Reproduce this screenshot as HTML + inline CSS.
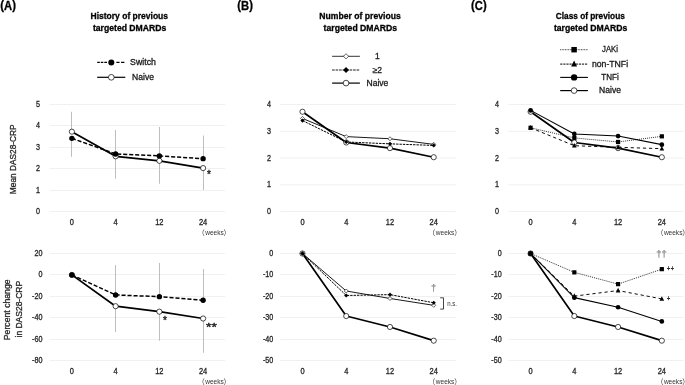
<!DOCTYPE html>
<html lang="en"><head><meta charset="utf-8"><title>Figure</title>
<style>html,body{margin:0;padding:0;background:#fff}svg{display:block}text{font-family:"Liberation Sans", sans-serif}.wk{font-family:"Liberation Sans","Noto Sans CJK JP",sans-serif}</style></head><body>
<svg width="685" height="385" viewBox="0 0 685 385">
<rect width="685" height="385" fill="#fff"/>
<g fill="#262626">
<text x="0.3" y="10.2" font-size="12.5" font-weight="bold" fill="#000" stroke="#000" stroke-width="0.3" textLength="15.6" lengthAdjust="spacingAndGlyphs"><tspan dy="-0.9">(</tspan><tspan dy="0.9">A</tspan><tspan dy="-0.9">)</tspan></text>
<text x="237.3" y="10.2" font-size="12.5" font-weight="bold" fill="#000" stroke="#000" stroke-width="0.3" textLength="15.6" lengthAdjust="spacingAndGlyphs"><tspan dy="-0.9">(</tspan><tspan dy="0.9">B</tspan><tspan dy="-0.9">)</tspan></text>
<text x="471.1" y="10.2" font-size="12.5" font-weight="bold" fill="#000" stroke="#000" stroke-width="0.3" textLength="15.6" lengthAdjust="spacingAndGlyphs"><tspan dy="-0.9">(</tspan><tspan dy="0.9">C</tspan><tspan dy="-0.9">)</tspan></text>
<text x="129.30" y="19.40" font-size="9.3" text-anchor="middle" font-weight="bold" fill="#000" stroke="#000" stroke-width="0.3" textLength="77.5" lengthAdjust="spacingAndGlyphs">History of previous</text>
<text x="129.60" y="30.80" font-size="9.3" text-anchor="middle" font-weight="bold" fill="#000" stroke="#000" stroke-width="0.3" textLength="73.4" lengthAdjust="spacingAndGlyphs">targeted DMARDs</text>
<text x="360.00" y="19.40" font-size="9.3" text-anchor="middle" font-weight="bold" fill="#000" stroke="#000" stroke-width="0.3" textLength="81.5" lengthAdjust="spacingAndGlyphs">Number of previous</text>
<text x="360.30" y="30.80" font-size="9.3" text-anchor="middle" font-weight="bold" fill="#000" stroke="#000" stroke-width="0.3" textLength="73.4" lengthAdjust="spacingAndGlyphs">targeted DMARDs</text>
<text x="590.30" y="19.40" font-size="9.3" text-anchor="middle" font-weight="bold" fill="#000" stroke="#000" stroke-width="0.3" textLength="69.0" lengthAdjust="spacingAndGlyphs">Class of previous</text>
<text x="590.60" y="30.80" font-size="9.3" text-anchor="middle" font-weight="bold" fill="#000" stroke="#000" stroke-width="0.3" textLength="73.4" lengthAdjust="spacingAndGlyphs">targeted DMARDs</text>
<path d="M97.2 62.4H99.8M100.8 62.4H103.3M104.3 62.4H107.0M116.4 62.4H119.5M121.1 62.4H124.4" stroke="#000" stroke-width="1.3"/>
<circle cx="111.30" cy="62.40" r="3.02" fill="#000"/>
<text x="143.00" y="65.10" font-size="8.5" text-anchor="middle" fill="#1a1a1a" stroke="#1a1a1a" stroke-width="0.3" textLength="25.8" lengthAdjust="spacingAndGlyphs">Switch</text>
<path d="M97.20 77.30H125.30" stroke="#000" stroke-width="1.2"/>
<circle cx="111.30" cy="77.30" r="2.86" fill="#fff" stroke="#000" stroke-width="0.7"/>
<text x="143.00" y="80.00" font-size="8.5" text-anchor="middle" fill="#1a1a1a" stroke="#1a1a1a" stroke-width="0.3" textLength="21.8" lengthAdjust="spacingAndGlyphs">Naive</text>
<path d="M332.10 56.30H359.90" stroke="#000" stroke-width="0.8"/>
<path d="M343.45 56.30L346.05 53.70L348.65 56.30L346.05 58.90Z" fill="#fff" stroke="#000" stroke-width="0.6"/>
<text x="377.40" y="59.00" font-size="8.5" text-anchor="middle" fill="#1a1a1a" stroke="#1a1a1a" stroke-width="0.3">1</text>
<path d="M332.10 70.00H359.90" stroke="#000" stroke-width="0.9" stroke-dasharray="2.6 0.9"/>
<path d="M343.11 70.00L346.05 67.06L348.99 70.00L346.05 72.94Z" fill="#000"/>
<text x="377.40" y="72.70" font-size="8.5" text-anchor="middle" fill="#1a1a1a" stroke="#1a1a1a" stroke-width="0.3">≥2</text>
<path d="M332.10 83.10H359.90" stroke="#000" stroke-width="1.2"/>
<circle cx="346.05" cy="83.10" r="2.86" fill="#fff" stroke="#000" stroke-width="0.7"/>
<text x="377.40" y="85.80" font-size="8.5" text-anchor="middle" fill="#1a1a1a" stroke="#1a1a1a" stroke-width="0.3" textLength="21.8" lengthAdjust="spacingAndGlyphs">Naive</text>
<path d="M560.20 49.70H587.90" stroke="#000" stroke-width="0.8" stroke-dasharray="0.9 0.7"/>
<rect x="571.37" y="46.97" width="5.46" height="5.46" fill="#000"/>
<text x="610.00" y="52.40" font-size="8.5" text-anchor="middle" fill="#1a1a1a" stroke="#1a1a1a" stroke-width="0.3" textLength="15.9" lengthAdjust="spacingAndGlyphs">JAKi</text>
<path d="M560.20 64.10H587.90" stroke="#000" stroke-width="1.0" stroke-dasharray="2.2 0.9"/>
<path d="M571.11 66.49L574.10 60.51L577.09 66.49Z" fill="#000"/>
<text x="610.00" y="66.80" font-size="8.5" text-anchor="middle" fill="#1a1a1a" stroke="#1a1a1a" stroke-width="0.3" textLength="36.2" lengthAdjust="spacingAndGlyphs">non-TNFi</text>
<path d="M560.20 77.40H587.90" stroke="#000" stroke-width="1.1"/>
<circle cx="574.10" cy="77.40" r="3.17" fill="#000"/>
<text x="610.00" y="80.10" font-size="8.5" text-anchor="middle" fill="#1a1a1a" stroke="#1a1a1a" stroke-width="0.3" textLength="17.4" lengthAdjust="spacingAndGlyphs">TNFi</text>
<path d="M560.20 90.60H587.90" stroke="#000" stroke-width="1.2"/>
<circle cx="574.10" cy="90.60" r="2.86" fill="#fff" stroke="#000" stroke-width="0.7"/>
<text x="610.00" y="93.30" font-size="8.5" text-anchor="middle" fill="#1a1a1a" stroke="#1a1a1a" stroke-width="0.3" textLength="21.8" lengthAdjust="spacingAndGlyphs">Naive</text>
<path d="M49.60 104.50H225.00M49.60 125.50H225.00M49.60 147.50H225.00M49.60 168.50H225.00M49.60 190.50H225.00M49.60 211.50H225.00" stroke="#f0f0f0" stroke-width="1" fill="none"/>
<text x="40.10" y="107.00" font-size="8.2" text-anchor="end" stroke="#262626" stroke-width="0.3" textLength="4.0" lengthAdjust="spacingAndGlyphs">5</text>
<text x="40.10" y="128.41" font-size="8.2" text-anchor="end" stroke="#262626" stroke-width="0.3" textLength="4.0" lengthAdjust="spacingAndGlyphs">4</text>
<text x="40.10" y="149.82" font-size="8.2" text-anchor="end" stroke="#262626" stroke-width="0.3" textLength="4.0" lengthAdjust="spacingAndGlyphs">3</text>
<text x="40.10" y="171.23" font-size="8.2" text-anchor="end" stroke="#262626" stroke-width="0.3" textLength="4.0" lengthAdjust="spacingAndGlyphs">2</text>
<text x="40.10" y="192.64" font-size="8.2" text-anchor="end" stroke="#262626" stroke-width="0.3" textLength="4.0" lengthAdjust="spacingAndGlyphs">1</text>
<text x="40.10" y="214.05" font-size="8.2" text-anchor="end" stroke="#262626" stroke-width="0.3" textLength="4.0" lengthAdjust="spacingAndGlyphs">0</text>
<text x="71.88" y="225.35" font-size="8.2" text-anchor="middle" stroke="#262626" stroke-width="0.3" textLength="4.15" lengthAdjust="spacingAndGlyphs">0</text>
<text x="115.62" y="225.35" font-size="8.2" text-anchor="middle" stroke="#262626" stroke-width="0.3" textLength="4.15" lengthAdjust="spacingAndGlyphs">4</text>
<text x="159.38" y="225.35" font-size="8.2" text-anchor="middle" stroke="#262626" stroke-width="0.3" textLength="8.3" lengthAdjust="spacingAndGlyphs">12</text>
<text x="203.12" y="225.35" font-size="8.2" text-anchor="middle" stroke="#262626" stroke-width="0.3" textLength="8.3" lengthAdjust="spacingAndGlyphs">24</text>
<path d="M71.5 111.75V131.69M71.5 138.33V156.75M115.5 130.00V153.96M115.5 156.31V178.75M159.5 127.00V155.88M159.5 160.81V183.75M203.5 135.50V158.67M203.5 168.09V190.00" stroke="#bebebe" stroke-width="1" fill="none"/>
<path d="M71.88 131.69L115.62 156.31L159.38 160.81L203.12 168.09" fill="none" stroke="#000" stroke-width="1.7" stroke-linejoin="round"/>
<circle cx="71.88" cy="131.69" r="2.60" fill="#fff" stroke="#000" stroke-width="0.7"/>
<circle cx="115.62" cy="156.31" r="2.60" fill="#fff" stroke="#000" stroke-width="0.7"/>
<circle cx="159.38" cy="160.81" r="2.60" fill="#fff" stroke="#000" stroke-width="0.7"/>
<circle cx="203.12" cy="168.09" r="2.60" fill="#fff" stroke="#000" stroke-width="0.7"/>
<path d="M71.88 138.33L115.62 153.96L159.38 155.88L203.12 158.67" fill="none" stroke="#000" stroke-width="1.5" stroke-linejoin="round" stroke-dasharray="4.1 1.9"/>
<circle cx="71.88" cy="138.33" r="2.70" fill="#000"/>
<circle cx="115.62" cy="153.96" r="2.70" fill="#000"/>
<circle cx="159.38" cy="155.88" r="2.70" fill="#000"/>
<circle cx="203.12" cy="158.67" r="2.70" fill="#000"/>
<text class="wk" y="234.60" font-size="7.0" fill="#333"><tspan x="197.70">（</tspan><tspan x="205.20" textLength="18.5" lengthAdjust="spacingAndGlyphs">weeks</tspan><tspan x="223.60">）</tspan></text>
<path d="M49.60 253.50H225.00M49.60 274.50H225.00M49.60 296.50H225.00M49.60 317.50H225.00M49.60 339.50H225.00M49.60 360.50H225.00" stroke="#f0f0f0" stroke-width="1" fill="none"/>
<text x="42.40" y="256.00" font-size="8.2" text-anchor="end" stroke="#262626" stroke-width="0.3" textLength="8.0" lengthAdjust="spacingAndGlyphs">20</text>
<text x="42.40" y="277.42" font-size="8.2" text-anchor="end" stroke="#262626" stroke-width="0.3" textLength="4.0" lengthAdjust="spacingAndGlyphs">0</text>
<text x="42.40" y="298.84" font-size="8.2" text-anchor="end" stroke="#262626" stroke-width="0.3" textLength="10.4" lengthAdjust="spacingAndGlyphs">-20</text>
<text x="42.40" y="320.26" font-size="8.2" text-anchor="end" stroke="#262626" stroke-width="0.3" textLength="10.4" lengthAdjust="spacingAndGlyphs">-40</text>
<text x="42.40" y="341.68" font-size="8.2" text-anchor="end" stroke="#262626" stroke-width="0.3" textLength="10.4" lengthAdjust="spacingAndGlyphs">-60</text>
<text x="42.40" y="363.10" font-size="8.2" text-anchor="end" stroke="#262626" stroke-width="0.3" textLength="10.4" lengthAdjust="spacingAndGlyphs">-80</text>
<text x="71.88" y="374.35" font-size="8.2" text-anchor="middle" stroke="#262626" stroke-width="0.3" textLength="4.15" lengthAdjust="spacingAndGlyphs">0</text>
<text x="115.62" y="374.35" font-size="8.2" text-anchor="middle" stroke="#262626" stroke-width="0.3" textLength="4.15" lengthAdjust="spacingAndGlyphs">4</text>
<text x="159.38" y="374.35" font-size="8.2" text-anchor="middle" stroke="#262626" stroke-width="0.3" textLength="8.3" lengthAdjust="spacingAndGlyphs">12</text>
<text x="203.12" y="374.35" font-size="8.2" text-anchor="middle" stroke="#262626" stroke-width="0.3" textLength="8.3" lengthAdjust="spacingAndGlyphs">24</text>
<path d="M115.5 265.00V294.95M115.5 306.19V332.00M159.5 263.00V296.66M159.5 311.66V340.75M203.5 269.00V300.30M203.5 318.51V352.75" stroke="#bebebe" stroke-width="1" fill="none"/>
<path d="M71.88 274.92L115.62 306.19L159.38 311.66L203.12 318.51" fill="none" stroke="#000" stroke-width="1.7" stroke-linejoin="round"/>
<circle cx="71.88" cy="274.92" r="2.60" fill="#fff" stroke="#000" stroke-width="0.7"/>
<circle cx="115.62" cy="306.19" r="2.60" fill="#fff" stroke="#000" stroke-width="0.7"/>
<circle cx="159.38" cy="311.66" r="2.60" fill="#fff" stroke="#000" stroke-width="0.7"/>
<circle cx="203.12" cy="318.51" r="2.60" fill="#fff" stroke="#000" stroke-width="0.7"/>
<path d="M71.88 274.92L115.62 294.95L159.38 296.66L203.12 300.30" fill="none" stroke="#000" stroke-width="1.5" stroke-linejoin="round" stroke-dasharray="4.1 1.9"/>
<circle cx="71.88" cy="274.92" r="2.70" fill="#000"/>
<circle cx="115.62" cy="294.95" r="2.70" fill="#000"/>
<circle cx="159.38" cy="296.66" r="2.70" fill="#000"/>
<circle cx="203.12" cy="300.30" r="2.70" fill="#000"/>
<text class="wk" y="383.60" font-size="7.0" fill="#333"><tspan x="197.70">（</tspan><tspan x="205.20" textLength="18.5" lengthAdjust="spacingAndGlyphs">weeks</tspan><tspan x="223.60">）</tspan></text>
<path d="M280.20 104.50H455.60M280.20 131.26H455.60M280.20 158.03H455.60M280.20 184.79H455.60M280.20 211.55H455.60" stroke="#f0f0f0" stroke-width="1" fill="none"/>
<text x="270.90" y="107.00" font-size="8.2" text-anchor="end" stroke="#262626" stroke-width="0.3" textLength="4.0" lengthAdjust="spacingAndGlyphs">4</text>
<text x="270.90" y="133.76" font-size="8.2" text-anchor="end" stroke="#262626" stroke-width="0.3" textLength="4.0" lengthAdjust="spacingAndGlyphs">3</text>
<text x="270.90" y="160.53" font-size="8.2" text-anchor="end" stroke="#262626" stroke-width="0.3" textLength="4.0" lengthAdjust="spacingAndGlyphs">2</text>
<text x="270.90" y="187.29" font-size="8.2" text-anchor="end" stroke="#262626" stroke-width="0.3" textLength="4.0" lengthAdjust="spacingAndGlyphs">1</text>
<text x="270.90" y="214.05" font-size="8.2" text-anchor="end" stroke="#262626" stroke-width="0.3" textLength="4.0" lengthAdjust="spacingAndGlyphs">0</text>
<text x="302.48" y="225.35" font-size="8.2" text-anchor="middle" stroke="#262626" stroke-width="0.3" textLength="4.15" lengthAdjust="spacingAndGlyphs">0</text>
<text x="346.23" y="225.35" font-size="8.2" text-anchor="middle" stroke="#262626" stroke-width="0.3" textLength="4.15" lengthAdjust="spacingAndGlyphs">4</text>
<text x="389.98" y="225.35" font-size="8.2" text-anchor="middle" stroke="#262626" stroke-width="0.3" textLength="8.3" lengthAdjust="spacingAndGlyphs">12</text>
<text x="433.73" y="225.35" font-size="8.2" text-anchor="middle" stroke="#262626" stroke-width="0.3" textLength="8.3" lengthAdjust="spacingAndGlyphs">24</text>
<path d="M302.48 111.73L346.23 142.50L389.98 148.12L433.73 157.22" fill="none" stroke="#000" stroke-width="1.7" stroke-linejoin="round"/>
<circle cx="302.48" cy="111.73" r="2.60" fill="#fff" stroke="#000" stroke-width="0.7"/>
<circle cx="346.23" cy="142.50" r="2.60" fill="#fff" stroke="#000" stroke-width="0.7"/>
<circle cx="389.98" cy="148.12" r="2.60" fill="#fff" stroke="#000" stroke-width="0.7"/>
<circle cx="433.73" cy="157.22" r="2.60" fill="#fff" stroke="#000" stroke-width="0.7"/>
<path d="M302.48 118.42L346.23 136.62L389.98 138.76L433.73 144.38" fill="none" stroke="#000" stroke-width="0.9" stroke-linejoin="round"/>
<path d="M300.48 118.42L302.48 116.42L304.48 118.42L302.48 120.42Z" fill="#fff" stroke="#000" stroke-width="0.6"/>
<path d="M344.23 136.62L346.23 134.62L348.23 136.62L346.23 138.62Z" fill="#fff" stroke="#000" stroke-width="0.6"/>
<path d="M387.98 138.76L389.98 136.76L391.98 138.76L389.98 140.76Z" fill="#fff" stroke="#000" stroke-width="0.6"/>
<path d="M431.73 144.38L433.73 142.38L435.73 144.38L433.73 146.38Z" fill="#fff" stroke="#000" stroke-width="0.6"/>
<path d="M302.48 120.56L346.23 141.97L389.98 143.84L433.73 145.45" fill="none" stroke="#000" stroke-width="1.0" stroke-linejoin="round" stroke-dasharray="2.4 1.0"/>
<path d="M300.38 120.56L302.48 118.46L304.58 120.56L302.48 122.66Z" fill="#000"/>
<path d="M344.12 141.97L346.23 139.87L348.33 141.97L346.23 144.07Z" fill="#000"/>
<path d="M387.88 143.84L389.98 141.74L392.08 143.84L389.98 145.94Z" fill="#000"/>
<path d="M431.62 145.45L433.73 143.35L435.83 145.45L433.73 147.55Z" fill="#000"/>
<text class="wk" y="234.60" font-size="7.0" fill="#333"><tspan x="428.30">（</tspan><tspan x="435.80" textLength="18.5" lengthAdjust="spacingAndGlyphs">weeks</tspan><tspan x="454.20">）</tspan></text>
<path d="M280.20 253.50H455.60M280.20 274.50H455.60M280.20 296.50H455.60M280.20 317.50H455.60M280.20 339.50H455.60M280.20 360.50H455.60" stroke="#f0f0f0" stroke-width="1" fill="none"/>
<text x="273.30" y="256.00" font-size="8.2" text-anchor="end" stroke="#262626" stroke-width="0.3" textLength="4.0" lengthAdjust="spacingAndGlyphs">0</text>
<text x="273.30" y="277.42" font-size="8.2" text-anchor="end" stroke="#262626" stroke-width="0.3" textLength="10.4" lengthAdjust="spacingAndGlyphs">-10</text>
<text x="273.30" y="298.84" font-size="8.2" text-anchor="end" stroke="#262626" stroke-width="0.3" textLength="10.4" lengthAdjust="spacingAndGlyphs">-20</text>
<text x="273.30" y="320.26" font-size="8.2" text-anchor="end" stroke="#262626" stroke-width="0.3" textLength="10.4" lengthAdjust="spacingAndGlyphs">-30</text>
<text x="273.30" y="341.68" font-size="8.2" text-anchor="end" stroke="#262626" stroke-width="0.3" textLength="10.4" lengthAdjust="spacingAndGlyphs">-40</text>
<text x="273.30" y="363.10" font-size="8.2" text-anchor="end" stroke="#262626" stroke-width="0.3" textLength="10.4" lengthAdjust="spacingAndGlyphs">-50</text>
<text x="302.48" y="374.35" font-size="8.2" text-anchor="middle" stroke="#262626" stroke-width="0.3" textLength="4.15" lengthAdjust="spacingAndGlyphs">0</text>
<text x="346.23" y="374.35" font-size="8.2" text-anchor="middle" stroke="#262626" stroke-width="0.3" textLength="4.15" lengthAdjust="spacingAndGlyphs">4</text>
<text x="389.98" y="374.35" font-size="8.2" text-anchor="middle" stroke="#262626" stroke-width="0.3" textLength="8.3" lengthAdjust="spacingAndGlyphs">12</text>
<text x="433.73" y="374.35" font-size="8.2" text-anchor="middle" stroke="#262626" stroke-width="0.3" textLength="8.3" lengthAdjust="spacingAndGlyphs">24</text>
<path d="M302.48 253.50L346.23 316.05L389.98 326.97L433.73 340.68" fill="none" stroke="#000" stroke-width="1.7" stroke-linejoin="round"/>
<circle cx="302.48" cy="253.50" r="2.60" fill="#fff" stroke="#000" stroke-width="0.7"/>
<circle cx="346.23" cy="316.05" r="2.60" fill="#fff" stroke="#000" stroke-width="0.7"/>
<circle cx="389.98" cy="326.97" r="2.60" fill="#fff" stroke="#000" stroke-width="0.7"/>
<circle cx="433.73" cy="340.68" r="2.60" fill="#fff" stroke="#000" stroke-width="0.7"/>
<path d="M302.48 253.50L346.23 290.99L389.98 298.48L433.73 305.34" fill="none" stroke="#000" stroke-width="0.9" stroke-linejoin="round"/>
<path d="M300.48 253.50L302.48 251.50L304.48 253.50L302.48 255.50Z" fill="#fff" stroke="#000" stroke-width="0.6"/>
<path d="M344.23 290.99L346.23 288.99L348.23 290.99L346.23 292.99Z" fill="#fff" stroke="#000" stroke-width="0.6"/>
<path d="M387.98 298.48L389.98 296.48L391.98 298.48L389.98 300.48Z" fill="#fff" stroke="#000" stroke-width="0.6"/>
<path d="M431.73 305.34L433.73 303.34L435.73 305.34L433.73 307.34Z" fill="#fff" stroke="#000" stroke-width="0.6"/>
<path d="M302.48 253.50L346.23 295.48L389.98 294.63L433.73 302.77" fill="none" stroke="#000" stroke-width="1.0" stroke-linejoin="round" stroke-dasharray="2.4 1.0"/>
<path d="M300.38 253.50L302.48 251.40L304.58 253.50L302.48 255.60Z" fill="#000"/>
<path d="M344.12 295.48L346.23 293.38L348.33 295.48L346.23 297.58Z" fill="#000"/>
<path d="M387.88 294.63L389.98 292.53L392.08 294.63L389.98 296.73Z" fill="#000"/>
<path d="M431.62 302.77L433.73 300.67L435.83 302.77L433.73 304.87Z" fill="#000"/>
<text class="wk" y="383.60" font-size="7.0" fill="#333"><tspan x="428.30">（</tspan><tspan x="435.80" textLength="18.5" lengthAdjust="spacingAndGlyphs">weeks</tspan><tspan x="454.20">）</tspan></text>
<path d="M508.30 104.50H683.70M508.30 131.26H683.70M508.30 158.03H683.70M508.30 184.79H683.70M508.30 211.55H683.70" stroke="#f0f0f0" stroke-width="1" fill="none"/>
<text x="499.10" y="107.00" font-size="8.2" text-anchor="end" stroke="#262626" stroke-width="0.3" textLength="4.0" lengthAdjust="spacingAndGlyphs">4</text>
<text x="499.10" y="133.76" font-size="8.2" text-anchor="end" stroke="#262626" stroke-width="0.3" textLength="4.0" lengthAdjust="spacingAndGlyphs">3</text>
<text x="499.10" y="160.53" font-size="8.2" text-anchor="end" stroke="#262626" stroke-width="0.3" textLength="4.0" lengthAdjust="spacingAndGlyphs">2</text>
<text x="499.10" y="187.29" font-size="8.2" text-anchor="end" stroke="#262626" stroke-width="0.3" textLength="4.0" lengthAdjust="spacingAndGlyphs">1</text>
<text x="499.10" y="214.05" font-size="8.2" text-anchor="end" stroke="#262626" stroke-width="0.3" textLength="4.0" lengthAdjust="spacingAndGlyphs">0</text>
<text x="530.58" y="225.35" font-size="8.2" text-anchor="middle" stroke="#262626" stroke-width="0.3" textLength="4.15" lengthAdjust="spacingAndGlyphs">0</text>
<text x="574.33" y="225.35" font-size="8.2" text-anchor="middle" stroke="#262626" stroke-width="0.3" textLength="4.15" lengthAdjust="spacingAndGlyphs">4</text>
<text x="618.08" y="225.35" font-size="8.2" text-anchor="middle" stroke="#262626" stroke-width="0.3" textLength="8.3" lengthAdjust="spacingAndGlyphs">12</text>
<text x="661.83" y="225.35" font-size="8.2" text-anchor="middle" stroke="#262626" stroke-width="0.3" textLength="8.3" lengthAdjust="spacingAndGlyphs">24</text>
<path d="M530.58 111.73L574.33 142.50L618.08 148.12L661.83 157.22" fill="none" stroke="#000" stroke-width="1.7" stroke-linejoin="round"/>
<circle cx="530.58" cy="111.73" r="2.60" fill="#fff" stroke="#000" stroke-width="0.7"/>
<circle cx="574.33" cy="142.50" r="2.60" fill="#fff" stroke="#000" stroke-width="0.7"/>
<circle cx="618.08" cy="148.12" r="2.60" fill="#fff" stroke="#000" stroke-width="0.7"/>
<circle cx="661.83" cy="157.22" r="2.60" fill="#fff" stroke="#000" stroke-width="0.7"/>
<path d="M530.58 127.78L574.33 137.95L618.08 141.97L661.83 136.35" fill="none" stroke="#000" stroke-width="0.8" stroke-linejoin="round" stroke-dasharray="1 1"/>
<rect x="528.48" y="125.68" width="4.20" height="4.20" fill="#000"/>
<rect x="572.23" y="135.85" width="4.20" height="4.20" fill="#000"/>
<rect x="615.98" y="139.87" width="4.20" height="4.20" fill="#000"/>
<rect x="659.73" y="134.25" width="4.20" height="4.20" fill="#000"/>
<path d="M530.58 127.78L574.33 145.71L618.08 147.32L661.83 148.66" fill="none" stroke="#000" stroke-width="0.95" stroke-linejoin="round" stroke-dasharray="3.2 2.9"/>
<path d="M528.28 129.62L530.58 125.02L532.88 129.62Z" fill="#000"/>
<path d="M572.03 147.55L574.33 142.95L576.62 147.55Z" fill="#000"/>
<path d="M615.78 149.16L618.08 144.56L620.38 149.16Z" fill="#000"/>
<path d="M659.53 150.50L661.83 145.90L664.12 150.50Z" fill="#000"/>
<path d="M530.58 110.39L574.33 133.94L618.08 136.08L661.83 144.64" fill="none" stroke="#000" stroke-width="1.05" stroke-linejoin="round"/>
<circle cx="530.58" cy="110.39" r="2.35" fill="#000"/>
<circle cx="574.33" cy="133.94" r="2.35" fill="#000"/>
<circle cx="618.08" cy="136.08" r="2.35" fill="#000"/>
<circle cx="661.83" cy="144.64" r="2.35" fill="#000"/>
<text class="wk" y="234.60" font-size="7.0" fill="#333"><tspan x="656.40">（</tspan><tspan x="663.90" textLength="18.5" lengthAdjust="spacingAndGlyphs">weeks</tspan><tspan x="682.30">）</tspan></text>
<path d="M508.30 253.50H683.70M508.30 274.50H683.70M508.30 296.50H683.70M508.30 317.50H683.70M508.30 339.50H683.70M508.30 360.50H683.70" stroke="#f0f0f0" stroke-width="1" fill="none"/>
<text x="501.70" y="256.00" font-size="8.2" text-anchor="end" stroke="#262626" stroke-width="0.3" textLength="4.0" lengthAdjust="spacingAndGlyphs">0</text>
<text x="501.70" y="277.42" font-size="8.2" text-anchor="end" stroke="#262626" stroke-width="0.3" textLength="10.4" lengthAdjust="spacingAndGlyphs">-10</text>
<text x="501.70" y="298.84" font-size="8.2" text-anchor="end" stroke="#262626" stroke-width="0.3" textLength="10.4" lengthAdjust="spacingAndGlyphs">-20</text>
<text x="501.70" y="320.26" font-size="8.2" text-anchor="end" stroke="#262626" stroke-width="0.3" textLength="10.4" lengthAdjust="spacingAndGlyphs">-30</text>
<text x="501.70" y="341.68" font-size="8.2" text-anchor="end" stroke="#262626" stroke-width="0.3" textLength="10.4" lengthAdjust="spacingAndGlyphs">-40</text>
<text x="501.70" y="363.10" font-size="8.2" text-anchor="end" stroke="#262626" stroke-width="0.3" textLength="10.4" lengthAdjust="spacingAndGlyphs">-50</text>
<text x="530.58" y="374.35" font-size="8.2" text-anchor="middle" stroke="#262626" stroke-width="0.3" textLength="4.15" lengthAdjust="spacingAndGlyphs">0</text>
<text x="574.33" y="374.35" font-size="8.2" text-anchor="middle" stroke="#262626" stroke-width="0.3" textLength="4.15" lengthAdjust="spacingAndGlyphs">4</text>
<text x="618.08" y="374.35" font-size="8.2" text-anchor="middle" stroke="#262626" stroke-width="0.3" textLength="8.3" lengthAdjust="spacingAndGlyphs">12</text>
<text x="661.83" y="374.35" font-size="8.2" text-anchor="middle" stroke="#262626" stroke-width="0.3" textLength="8.3" lengthAdjust="spacingAndGlyphs">24</text>
<path d="M530.58 253.50L574.33 316.05L618.08 326.97L661.83 340.68" fill="none" stroke="#000" stroke-width="1.7" stroke-linejoin="round"/>
<circle cx="530.58" cy="253.50" r="2.60" fill="#fff" stroke="#000" stroke-width="0.7"/>
<circle cx="574.33" cy="316.05" r="2.60" fill="#fff" stroke="#000" stroke-width="0.7"/>
<circle cx="618.08" cy="326.97" r="2.60" fill="#fff" stroke="#000" stroke-width="0.7"/>
<circle cx="661.83" cy="340.68" r="2.60" fill="#fff" stroke="#000" stroke-width="0.7"/>
<path d="M530.58 253.50L574.33 272.35L618.08 284.13L661.83 269.14" fill="none" stroke="#000" stroke-width="0.8" stroke-linejoin="round" stroke-dasharray="1 1"/>
<rect x="528.48" y="251.40" width="4.20" height="4.20" fill="#000"/>
<rect x="572.23" y="270.25" width="4.20" height="4.20" fill="#000"/>
<rect x="615.98" y="282.03" width="4.20" height="4.20" fill="#000"/>
<rect x="659.73" y="267.04" width="4.20" height="4.20" fill="#000"/>
<path d="M530.58 253.50L574.33 296.13L618.08 290.56L661.83 298.91" fill="none" stroke="#000" stroke-width="0.95" stroke-linejoin="round" stroke-dasharray="3.2 2.9"/>
<path d="M528.28 255.34L530.58 250.74L532.88 255.34Z" fill="#000"/>
<path d="M572.03 297.97L574.33 293.37L576.62 297.97Z" fill="#000"/>
<path d="M615.78 292.40L618.08 287.80L620.38 292.40Z" fill="#000"/>
<path d="M659.53 300.75L661.83 296.15L664.12 300.75Z" fill="#000"/>
<path d="M530.58 253.50L574.33 297.63L618.08 307.26L661.83 321.40" fill="none" stroke="#000" stroke-width="1.05" stroke-linejoin="round"/>
<circle cx="530.58" cy="253.50" r="2.35" fill="#000"/>
<circle cx="574.33" cy="297.63" r="2.35" fill="#000"/>
<circle cx="618.08" cy="307.26" r="2.35" fill="#000"/>
<circle cx="661.83" cy="321.40" r="2.35" fill="#000"/>
<text class="wk" y="383.60" font-size="7.0" fill="#333"><tspan x="656.40">（</tspan><tspan x="663.90" textLength="18.5" lengthAdjust="spacingAndGlyphs">weeks</tspan><tspan x="682.30">）</tspan></text>
<text transform="translate(16.1 159.3) rotate(-90)" font-size="8.9" text-anchor="middle" textLength="69.7" lengthAdjust="spacingAndGlyphs" stroke="#262626" stroke-width="0.3">Mean DAS28-CRP</text>
<text transform="translate(10.3 309.8) rotate(-90)" font-size="8.9" text-anchor="middle" textLength="60.8" lengthAdjust="spacingAndGlyphs" stroke="#262626" stroke-width="0.3">Percent change</text>
<text transform="translate(21.8 309.2) rotate(-90)" font-size="8.9" text-anchor="middle" textLength="56.6" lengthAdjust="spacingAndGlyphs" stroke="#262626" stroke-width="0.3">in DAS28-CRP</text>
<text x="208.90" y="178.00" font-size="10" text-anchor="middle" fill="#222" stroke="#222" stroke-width="0.35">*</text>
<text x="165.00" y="324.00" font-size="10" text-anchor="middle" fill="#222" stroke="#222" stroke-width="0.35">*</text>
<text x="211.40" y="331.40" font-size="10" text-anchor="middle" fill="#222" stroke="#222" stroke-width="0.35" textLength="10.8" lengthAdjust="spacingAndGlyphs">**</text>
<text x="433.70" y="291.00" font-size="9.5" text-anchor="middle" fill="#8a8a8a" stroke="#8a8a8a" stroke-width="0.25">†</text>
<path d="M440.2 297.8H443.5V309.1H440.2" fill="none" stroke="#222" stroke-width="0.85"/>
<text x="447.20" y="306.20" font-size="7.3" fill="#333" textLength="9.8" lengthAdjust="spacingAndGlyphs">n.s.</text>
<text x="659.00" y="257.40" font-size="9.5" text-anchor="middle" fill="#8a8a8a" stroke="#8a8a8a" stroke-width="0.25">†</text>
<text x="664.10" y="257.40" font-size="9.5" text-anchor="middle" fill="#8a8a8a" stroke="#8a8a8a" stroke-width="0.25">†</text>
<text transform="translate(667.0 271.1) scale(.72 1)" font-size="7.4" letter-spacing="0.85" fill="#222" stroke="#222" stroke-width="0.35">++</text>
<text transform="translate(666.95 301.15) scale(.72 1)" font-size="7.4" fill="#222" stroke="#222" stroke-width="0.35">+</text>
</g></svg></body></html>
